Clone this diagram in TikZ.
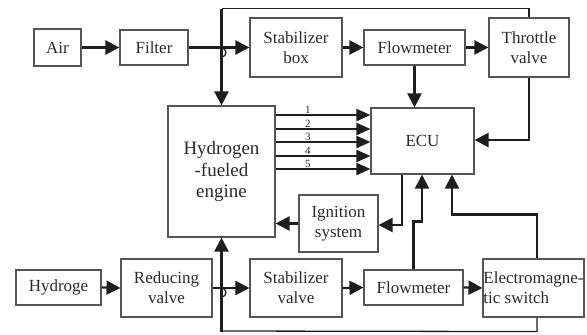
\documentclass[tikz,border=0pt]{standalone}
\usepackage{fontspec}
\setmainfont{Liberation Serif}
\usetikzlibrary{arrows.meta}
\definecolor{boxc}{HTML}{555555}
\definecolor{txtc}{HTML}{2A2A2A}
\definecolor{linec}{HTML}{1E1E1E}
\tikzset{
  blk/.style={draw=boxc, line width=1.1pt, inner sep=0pt, text=txtc, align=center,
    font=\fontsize{17}{20}\selectfont},
  conn/.style={draw=linec, line width=2.2pt, -{Triangle[length=14pt,width=14pt]}},
  thinconn/.style={draw=linec, line width=1.3pt},
  sig/.style={draw=linec, line width=2.2pt, -{Triangle[length=14pt,width=12pt]}},
  numlab/.style={font=\fontsize{11}{11}\selectfont, text=txtc, inner sep=0.5pt, above}
}
\begin{document}
\begin{tikzpicture}[x=1pt,y=-1pt]
\useasboundingbox (0,0) rectangle (587,335);
% boxes
\node[blk, minimum width=47pt, minimum height=37pt] (air) at (57.5,47.5) {Air};
\node[blk, minimum width=68pt, minimum height=35pt] (filter) at (154,47.5) {Filter};
\node[blk, minimum width=92pt, minimum height=59pt] (stab1) at (296,47.5) {Stabilizer\\box};
\node[blk, minimum width=101pt, minimum height=35pt] (flow1) at (414.5,47.5) {Flowmeter};
\node[blk, minimum width=80pt, minimum height=59pt] (thr) at (529,47.5) {Throttle\\valve};
\node[blk, minimum width=107pt, minimum height=131pt, font=\fontsize{19}{21.5}\selectfont] (eng) at (221.5,171.5) {Hydrogen\\-fueled\\engine};
\node[blk, minimum width=103pt, minimum height=66pt] (ecu) at (422.5,141) {ECU};
\node[blk, minimum width=79pt, minimum height=57pt] (ign) at (338.5,223.5) {Ignition\\system};
\node[blk, minimum width=85pt, minimum height=35pt] (hyd) at (58.5,287.5) {Hydroge};
\node[blk, minimum width=91pt, minimum height=58pt] (red) at (166.5,288) {Reducing\\valve};
\node[blk, minimum width=92pt, minimum height=58pt] (stab2) at (296,288) {Stabilizer\\valve};
\node[blk, minimum width=99pt, minimum height=35pt] (flow2) at (413.5,287.5) {Flowmeter};
\node[blk, minimum width=101pt, minimum height=58pt, align=left] (em) at (533.5,288) {Electromagne-\\tic switch};

% top air path
\draw[conn] (air.east) -- (filter.west);
\draw[conn] (filter.east) -- (stab1.west);
\draw[thinconn] (221.5,48) arc[start angle=-90, end angle=90, radius=4.5];
\draw[conn] (stab1.east) -- (flow1.west);
\draw[conn] (flow1.east) -- (thr.west);
\draw[conn] (flow1.south) -- (flow1.south |- ecu.north);
\draw[conn] (thr.south) |- ([yshift=1pt]ecu.east);
% top return loop
\draw[thinconn] (thr.north) -- ++(0,-9) -- ++(-307.5,0);
\draw[conn] (221.5,9) -- (eng.north);

% signals 1-5
\foreach \yy/\n in {115/1,129/2,142/3,156/4,169/5}{
  \draw[sig] (eng.east |- 0,\yy) -- (ecu.west |- 0,\yy) node[numlab, pos=0.34] {\n};
}

% ignition
\draw[conn] ([xshift=-20.5pt]ecu.south) |- ([yshift=-1.5pt]ign.east);
\draw[conn] (ign.west) -- (ign.west -| eng.east);

% bottom hydrogen path
\draw[conn] (hyd.east) -- (red.west);
\draw[conn] (red.east) -- (stab2.west);
\draw[thinconn] (221.5,288) arc[start angle=-90, end angle=90, radius=4.5];
\draw[conn] (stab2.east) -- (flow2.west);
\draw[conn] (flow2.east) -- (em.west);
\draw[conn] (flow2.north) -- ++(0,-48) -| ([xshift=-0.5pt]ecu.south);
\draw[conn] ([xshift=3.5pt]em.north) -- ++(0,-44) -| ([xshift=29.5pt]ecu.south);
% bottom return loop
\draw[thinconn] ([xshift=3.5pt]em.south) -- ++(0,14) -- (221.5,331);
\draw[conn] (221.5,331.6) -- (eng.south);
\end{tikzpicture}
\end{document}
